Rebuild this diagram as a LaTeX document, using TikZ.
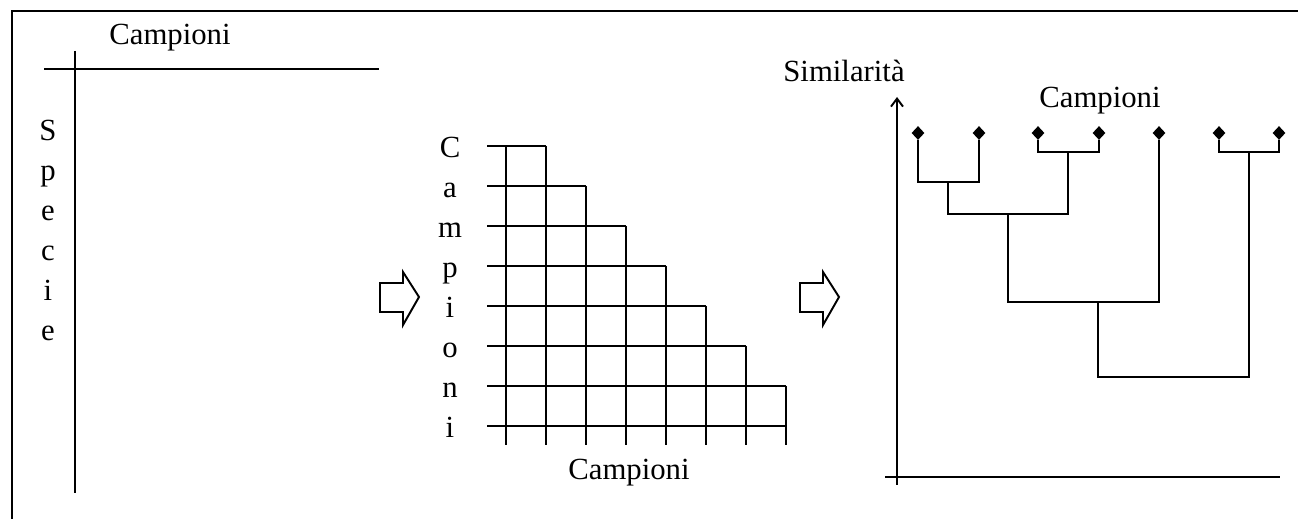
\documentclass[tikz,border=0pt]{standalone}
\usepackage{fontspec}
\setmainfont{Liberation Serif}
\usetikzlibrary{arrows.meta,shapes.geometric}

\begin{document}
\begin{tikzpicture}[
    x=0.02cm, y=-0.02cm,
    txt/.style={font=\fontsize{17.5}{20}\selectfont, inner sep=0pt, anchor=base},
    ln/.style={line width=1.1pt, draw=black},
    leaf/.style={diamond, fill=black, inner sep=0pt, minimum width=0.26cm, minimum height=0.28cm},
    axarr/.style={ln, -{Straight Barb[length=1.6mm, width=2.4mm]}},
    fatarr/.pic={\draw[ln, line join=miter] (0,0) -- (23,0) -- (23,-11) -- (39,14) -- (23,42) -- (23,29) -- (0,29) -- cycle;}
]
\useasboundingbox (0,0) rectangle (1298,519);

% frame
\draw[ln] (12,519) -- (12,11) -- (1298,11);

% species x samples table
\node[txt] (tabcamp) at (170,45) {Campioni};
\draw[ln] (44,69) -- (379,69);
\draw[ln] (75,51) -- (75,493);
\foreach \c [count=\k from 0] in {S,p,e,c,i,e}
    \node[txt] (spec\k) at (48,141+40*\k) {\c};

\pic at (380,283) {fatarr};

% similarity matrix
\foreach \r in {0,...,7}
    \draw[ln] (487,146+40*\r) -- ({546+40*min(\r,6)},146+40*\r);
\foreach \c in {0,...,7}
    \draw[ln] (506+40*\c,{146+40*max(\c-1,0)}) -- (506+40*\c,445);
\foreach \c [count=\k from 0] in {C,a,m,p,i,o,n,i}
    \node[txt] (row\k) at (450,158+40*\k) {\c};
\node[txt] (matcamp) at (629,480) {Campioni};

\pic at (800,283) {fatarr};

% dendrogram
\node[txt] (sim) at (844,82) {Similarità};
\draw[axarr] (897,485) -- (897,97);
\draw[ln] (885,477) -- (1280,477);
\node[txt] (dencamp) at (1100,108) {Campioni};
\foreach \x [count=\k] in {918,979,1038,1099,1159,1219,1279}
    \node[leaf] (l\k) at (\x,133) {};
\coordinate (m12) at (948,182);
\coordinate (m34) at (1068,152);
\coordinate (m67) at (1249,152);
\coordinate (m1234) at (1008,214);
\coordinate (m5) at (1098,302);
\coordinate (mall) at (1173,377);
\draw[ln] (l1.south) |- (m12) -| (l2.south);
\draw[ln] (l3.south) |- (m34) -| (l4.south);
\draw[ln] (l6.south) |- (m67) -| (l7.south);
\draw[ln] (m12) |- (m1234) -| (m34);
\draw[ln] (m1234) |- (m5) -| (l5.south);
\draw[ln] (m5) |- (mall) -| (m67);
\end{tikzpicture}
\end{document}
